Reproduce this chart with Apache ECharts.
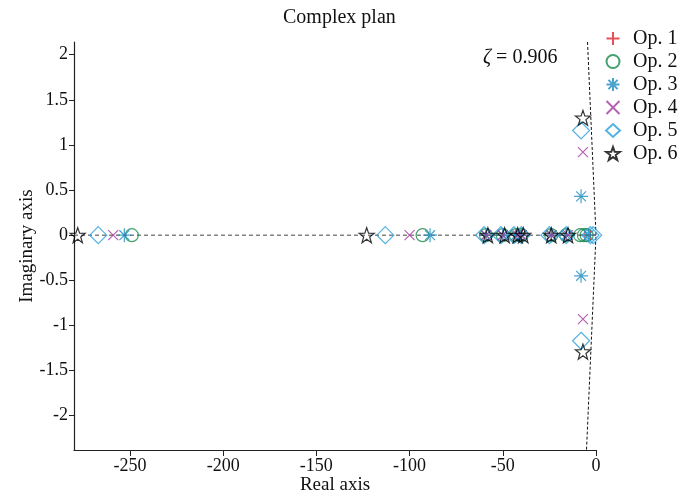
<!DOCTYPE html>
<html>
<head>
<meta charset="utf-8">
<script src="https://cdn.jsdelivr.net/npm/echarts@6/dist/echarts.min.js"></script>
<style>
  html, body { margin: 0; padding: 0; background: #fff; }
  #chart { width: 682px; height: 497px; }
</style>
</head>
<body>
<div id="chart"></div>
<script>
// Pole locations [real, imaginary] for each operating point
const op1 = [[-59, 0], [-50, 0], [-43, 0], [-40, 0], [-24, 0], [-16, 0], [-6, 0], [-3, 0]];
const op2 = [[-249, 0], [-93, 0], [-59, 0], [-50, 0], [-43, 0], [-40, 0], [-24, 0], [-16, 0], [-8.5, 0], [-6.5, 0], [-5, 0]];
const op3 = [[-253, 0], [-89, 0], [-59, 0], [-50, 0], [-43, 0], [-40, 0], [-24, 0], [-16, 0], [-4, 0], [-8, 0.43], [-8, -0.45]];
const op4 = [[-259, 0], [-100, 0], [-59, 0], [-50, 0], [-42, 0], [-40, 0], [-24, 0], [-15, 0], [-7, 0.92], [-7, -0.93]];
const op5 = [[-267, 0], [-113, 0], [-60, 0], [-51, 0], [-44, 0], [-40, 0], [-25, 0], [-16, 0], [-3, 0], [-1.5, 0], [-8, 1.16], [-8, -1.17]];
const op6 = [[-278, 0], [-123, 0], [-58, 0], [-49, 0], [-42, 0], [-39, 0], [-24, 0], [-15, 0], [-7, 1.3], [-7, -1.29]];

const seriesNames = ['Op. 1', 'Op. 2', 'Op. 3', 'Op. 4', 'Op. 5', 'Op. 6'];
const xTicks = [-250, -200, -150, -100, -50, 0];
const yTicks = [-2, -1.5, -1, -0.5, 0, 0.5, 1, 1.5, 2];

// Reference lines: real axis and the constant-damping ray (zeta = 0.906)
const realAxisLine = [[-280, 0], [0, 0]];
const zetaLine = [[-4.55, 2.14], [0, 0], [-5.1, -2.38]];

const FONT = '"Liberation Serif", "DejaVu Serif", serif';

const plusPath = 'path://M0,-1 L0,1 M-1,0 L1,0';
const crossPath = 'path://M-1,-1 L1,1 M-1,1 L1,-1';
const asteriskPath = 'path://M0,-1 L0,1 M-1,0 L1,0 M-0.707,-0.707 L0.707,0.707 M-0.707,0.707 L0.707,-0.707';
const starPath = 'path://M0,-1 L0.235,-0.324 L0.951,-0.309 L0.38,0.124 L0.588,0.809 L0,0.4 L-0.588,0.809 L-0.38,0.124 L-0.951,-0.309 L-0.235,-0.324 Z';

const styles = [
  { data: op1, symbol: plusPath, size: 11, color: '#e0242e' },
  { data: op2, symbol: 'circle', size: 13, color: '#17874a' },
  { data: op3, symbol: asteriskPath, size: 14, color: '#1b8cc0' },
  { data: op4, symbol: crossPath, size: 10, color: '#a23a9e' },
  { data: op5, symbol: 'diamond', size: 17, color: '#2a9fdc' },
  { data: op6, symbol: starPath, size: 15, color: '#000000' }
];

const scatterSeries = styles.map((s, i) => ({
  name: seriesNames[i],
  type: 'scatter',
  data: s.data,
  symbol: s.symbol,
  symbolSize: s.size,
  itemStyle: { color: 'transparent', borderColor: s.color, borderWidth: 1.2 },
  emphasis: { disabled: true },
  z: 3 + i
}));

const chart = echarts.init(document.getElementById('chart'), null, { renderer: 'canvas' });
chart.setOption({
  animation: false,
  backgroundColor: '#ffffff',
  title: {
    text: 'Complex plan',
    left: 278,
    top: 3,
    textStyle: { fontFamily: FONT, fontSize: 20, fontWeight: 'normal', color: '#111' }
  },
  legend: {
    orient: 'vertical',
    left: 600,
    top: 23,
    itemWidth: 14,
    itemHeight: 13,
    itemGap: 2,
    data: seriesNames,
    textStyle: { fontFamily: FONT, fontSize: 20, lineHeight: 21, color: '#111', padding: [0, 0, 0, 8] }
  },
  grid: { left: 74, right: 86, top: 42, bottom: 47, containLabel: false, outerBoundsMode: 'none' },
  xAxis: {
    type: 'value',
    min: -280,
    max: 0,
    name: 'Real axis',
    nameLocation: 'middle',
    nameGap: 26,
    nameMoveOverlap: false,
    nameTextStyle: { fontFamily: FONT, fontSize: 19, color: '#111' },
    axisLine: { onZero: false, lineStyle: { color: '#222', width: 1.2 } },
    axisTick: { show: true, inside: false, length: 6, customValues: xTicks, lineStyle: { color: '#222' } },
    axisLabel: { customValues: xTicks, fontFamily: FONT, fontSize: 18, color: '#111', margin: 7 },
    splitLine: { show: false }
  },
  yAxis: {
    type: 'value',
    min: -2.38,
    max: 2.14,
    name: 'Imaginary axis',
    nameLocation: 'middle',
    nameGap: 37,
    nameMoveOverlap: false,
    nameRotate: 90,
    nameTextStyle: { fontFamily: FONT, fontSize: 19, color: '#111' },
    axisLine: { onZero: false, lineStyle: { color: '#222', width: 1.2 } },
    axisTick: { show: true, inside: false, length: 5, customValues: yTicks, lineStyle: { color: '#222' } },
    axisLabel: { customValues: yTicks, fontFamily: FONT, fontSize: 18, color: '#111', margin: 6 },
    splitLine: { show: false }
  },
  graphic: [{
    type: 'text',
    left: 483,
    top: 48,
    style: {
      text: '{z|\u03b6} = 0.906',
      rich: { z: { fontFamily: FONT, fontSize: 20, fontStyle: 'italic', fill: '#111' } },
      font: '20px ' + FONT,
      fill: '#111'
    }
  }],
  series: [
    {
      type: 'line',
      data: realAxisLine,
      symbol: 'none',
      silent: true,
      lineStyle: { color: '#444', width: 1, type: [4, 3] },
      z: 1
    },
    {
      type: 'line',
      data: zetaLine,
      symbol: 'none',
      silent: true,
      lineStyle: { color: '#111', width: 1, type: [3, 2] },
      z: 1
    }
  ].concat(scatterSeries)
});
</script>
</body>
</html>
